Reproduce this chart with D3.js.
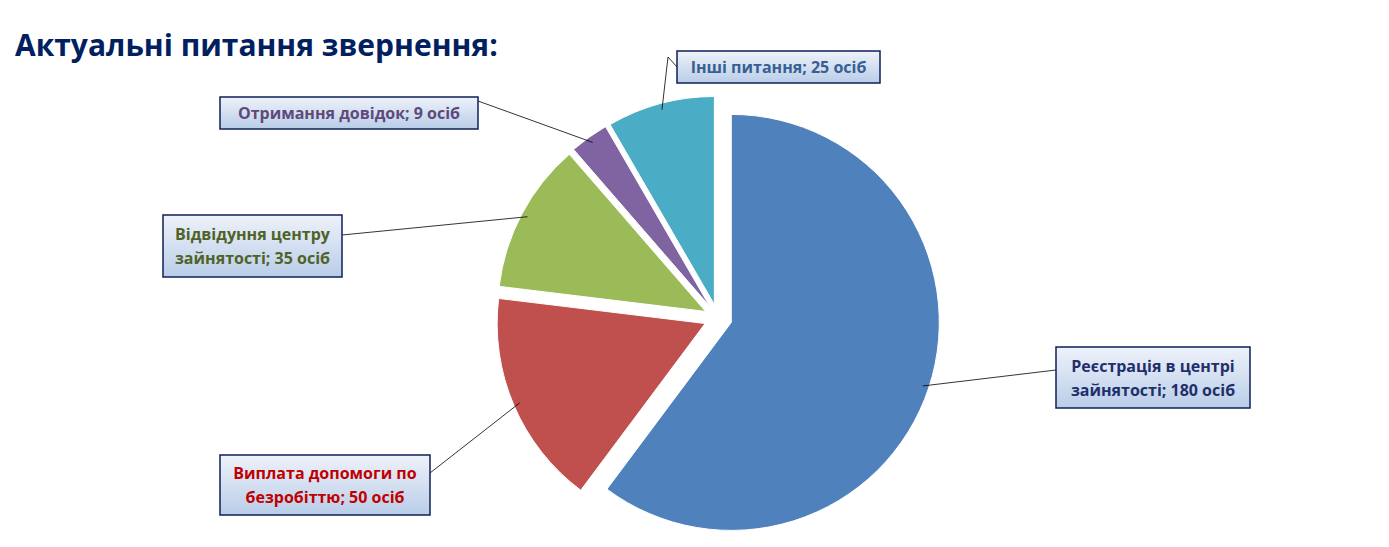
<!DOCTYPE html>
<html><head><meta charset="utf-8">
<script src="https://cdn.jsdelivr.net/npm/d3@7"></script>
<style>body{margin:0;background:#fff}</style>
</head><body>
<script>
"use strict";
var categories = ["Реєстрація в центрі зайнятості", "Виплата допомоги по безробіттю", "Відвідуння центру зайнятості", "Отримання довідок", "Інші питання"];
var values = [180, 50, 35, 9, 25];
var colors = ["#4F81BD", "#C0504D", "#9BBB59", "#8064A2", "#4BACC6"];
var textColors = ["#1F2F6B", "#C00000", "#4F6228", "#5F497A", "#366092"];
var labelLines = [["Реєстрація в центрі", "зайнятості; 180 осіб"], ["Виплата допомоги по", "безробіттю; 50 осіб"], ["Відвідуння центру", "зайнятості; 35 осіб"], ["Отримання довідок; 9 осіб"], ["Інші питання; 25 осіб"]];
// label boxes: x, y, w, h, elbow point
var boxes = [[1056,347,194,61,[1056,370]], [220,455,210,60,[430,473]], [163,215,179,62,[342,235]], [220,97,258,32,[478,101]], [677,51,203,32,[668,57]]];

var W = 1389, H = 547, r = 208, cx = 718, cy = 318, explode = 14;
var svg = d3.select("body").append("svg").attr("width", W).attr("height", H);

var defs = svg.append("defs");
var g = defs.append("linearGradient").attr("id", "lg").attr("x1", 0).attr("y1", 0).attr("x2", 0).attr("y2", 1);
g.append("stop").attr("offset", "0%").attr("stop-color", "#EEF2FA");
g.append("stop").attr("offset", "100%").attr("stop-color", "#B9CDE8");

svg.append("text").attr("x", 15).attr("y", 56).attr("fill", "#002060")
  .attr("font-family", "Open Sans, Liberation Sans, sans-serif").attr("font-weight", "bold")
  .attr("font-size", 30).text("Актуальні питання звернення:");

var pie = d3.pie().sort(null).value(function(d){ return d; });
var arcs = pie(values);
var arc = d3.arc().innerRadius(0).outerRadius(r);

arcs.forEach(function(a, i){
  var mid = (a.startAngle + a.endAngle) / 2;
  var dx = Math.sin(mid) * explode, dy = -Math.cos(mid) * explode;
  svg.append("path").attr("d", arc(a)).attr("fill", colors[i])
    .attr("stroke", "#fff").attr("stroke-width", 1)
    .attr("transform", "translate(" + (cx + dx) + "," + (cy + dy) + ")");
  var ex = cx + dx + Math.sin(mid) * r * 0.97, ey = cy + dy - Math.cos(mid) * r * 0.97;
  var b = boxes[i];
  var bx = b[4];
  var pts = [[b[0] + (b[0] > cx ? 0 : b[2]), bx[1]], bx, [ex, ey]];
  if (i === 4) pts = [[b[0], b[1] + 16], bx, [ex, ey]];
  svg.append("path").attr("d", d3.line()(pts)).attr("fill", "none").attr("stroke", "#000").attr("stroke-width", 0.8);
  svg.append("rect").attr("x", b[0]).attr("y", b[1]).attr("width", b[2]).attr("height", b[3])
    .attr("fill", "url(#lg)").attr("stroke", "#0F1F5A").attr("stroke-width", 1.5);
  var t = svg.append("text").attr("fill", textColors[i]).attr("text-anchor", "middle")
    .attr("font-family", "Open Sans, Liberation Sans, sans-serif").attr("font-weight", "bold").attr("font-size", 16);
  var n = labelLines[i].length;
  labelLines[i].forEach(function(s, k){
    t.append("tspan").attr("x", b[0] + b[2] / 2)
      .attr("y", b[1] + b[3] / 2 + (k - (n - 1) / 2) * 24 + 6).text(s);
  });
});
</script>
</body></html>
